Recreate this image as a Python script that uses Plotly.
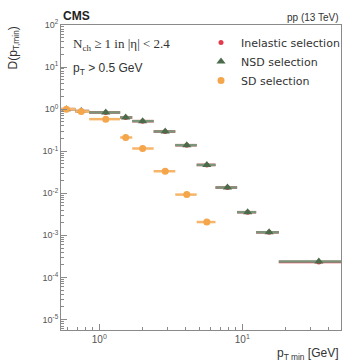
import numpy as np
import plotly.graph_objects as go

# Bin edges of the leading-track pT threshold (GeV)
bin_lo = [0.50, 0.68, 0.85, 1.40, 1.70, 2.40, 3.40, 4.80, 6.50, 9.20, 12.5, 18.0]
bin_hi = [0.68, 0.85, 1.40, 1.70, 2.40, 3.40, 4.80, 6.50, 9.20, 12.5, 18.0, 65.0]
pt_center = [0.589, 0.748, 1.11, 1.53, 2.01, 2.89, 4.09, 5.65, 7.88, 10.9, 15.4, 34.3]

# D(pT,min) for each event selection
d_inelastic = [1.0, 0.90, 0.834, 0.634, 0.518, 0.294, 0.139, 0.0472, 0.0137, 0.00355, 0.00118, 0.000232]
d_nsd = [1.0, 0.90, 0.834, 0.634, 0.518, 0.294, 0.139, 0.0472, 0.0137, 0.00355, 0.00118, 0.00024]
d_sd = [1.0, 0.88, 0.578, 0.212, 0.116, 0.0334, 0.0093, 0.00207]

y_ticks = [1e-5, 1e-4, 1e-3, 1e-2, 1e-1, 1, 10, 100]
y_ticktext = ["10<sup>-5</sup>", "10<sup>-4</sup>", "10<sup>-3</sup>", "10<sup>-2</sup>",
              "10<sup>-1</sup>", "10<sup>0</sup>", "10<sup>1</sup>", "10<sup>2</sup>"]
x_ticks = [1, 10]
x_ticktext = ["10<sup>0</sup>", "10<sup>1</sup>"]

RED = "#e33b4b"
GREEN = "#4b6b4b"
GREEN_BAR = "#7a957a"
ORANGE = "#f5a54a"
ORANGE_BAR = "#f7b56a"
AXIS = "#8a8a8a"
TEXT = "#333333"


def xerr(n):
    c = np.array(pt_center[:n])
    return np.array(bin_hi[:n]) - c, c - np.array(bin_lo[:n])


fig = go.Figure()

for name, vals, sym, size, col, barcol in [
    ("Inelastic selection", d_inelastic, "circle", 5, RED, RED),
    ("NSD selection", d_nsd, "triangle-up", 8, GREEN, GREEN_BAR),
    ("SD selection", d_sd, "circle", 7, ORANGE, ORANGE_BAR),
]:
    n = len(vals)
    plus, minus = xerr(n)
    fig.add_trace(go.Scatter(
        x=pt_center[:n], y=vals, mode="markers", name=name,
        marker=dict(symbol=sym, size=size, color=col),
        error_x=dict(type="data", symmetric=False, array=plus, arrayminus=minus,
                     color=barcol, thickness=2.5, width=0),
    ))

minor_x = [m * 10.0 ** e for e in (-1, 0, 1) for m in range(2, 10)]
minor_y = [m * 10.0 ** e for e in range(-6, 2) for m in range(2, 10)]

fig.update_xaxes(
    type="log", range=[np.log10(0.54), np.log10(49)],
    tickvals=x_ticks, ticktext=x_ticktext,
    ticks="inside", ticklen=6, tickcolor=AXIS,
    minor=dict(tickvals=minor_x, ticks="inside", ticklen=3, tickcolor=AXIS, showgrid=False),
    showline=True, linecolor=AXIS, linewidth=1, mirror=True,
    showgrid=False, zeroline=False,
    tickfont=dict(family="Liberation Sans", size=10, color="#555555"),
)
fig.update_yaxes(
    type="log", range=[-5.25, 2],
    tickvals=y_ticks, ticktext=y_ticktext,
    ticks="inside", ticklen=6, tickcolor=AXIS,
    minor=dict(tickvals=minor_y, ticks="inside", ticklen=3, tickcolor=AXIS, showgrid=False),
    showline=True, linecolor=AXIS, linewidth=1, mirror=True,
    showgrid=False, zeroline=False,
    tickfont=dict(family="Liberation Sans", size=9, color="#555555"),
)

fig.add_annotation(text="<b>CMS</b>", xref="paper", yref="paper", x=0.0, y=1.0,
                   xanchor="left", yanchor="bottom", showarrow=False, yshift=0,
                   font=dict(family="Liberation Sans", size=12, color="#222222"))
fig.add_annotation(text="pp (13 TeV)", xref="paper", yref="paper", x=1.0, y=1.0,
                   xanchor="right", yanchor="bottom", showarrow=False, yshift=0,
                   font=dict(family="Liberation Sans", size=10, color=TEXT))
fig.add_annotation(text="N<sub>ch</sub> ≥ 1 in |η| < 2.4", xref="paper", yref="paper",
                   x=0.035, y=0.935, xanchor="left", yanchor="middle", showarrow=False,
                   font=dict(family="Liberation Serif", size=13, color=TEXT))
fig.add_annotation(text="p<sub>T</sub> > 0.5 GeV", xref="paper", yref="paper",
                   x=0.035, y=0.855, xanchor="left", yanchor="middle", showarrow=False,
                   font=dict(family="Liberation Sans", size=12, color=TEXT))
fig.add_annotation(text="D(p<sub>T,min</sub>)", xref="paper", yref="paper",
                   x=0, y=1.0, xshift=-48, xanchor="center", yanchor="top",
                   textangle=-90, showarrow=False,
                   font=dict(family="Liberation Sans", size=12, color=TEXT))
fig.add_annotation(text="p<sub>T min</sub> [GeV]", xref="paper", yref="paper",
                   x=1.0, y=0, yshift=-14, xanchor="right", yanchor="top", showarrow=False,
                   font=dict(family="Liberation Sans", size=12, color=TEXT))

fig.update_layout(
    width=348, height=363,
    margin=dict(l=61, r=3, t=25, b=33),
    paper_bgcolor="white", plot_bgcolor="white",
    showlegend=True,
    legend=dict(x=0.5, y=0.99, xanchor="left", yanchor="top",
                bgcolor="rgba(0,0,0,0)", tracegroupgap=0, itemwidth=30,
                font=dict(family="DejaVu Sans", size=11, color=TEXT)),
)

fig.write_html("out.html")
